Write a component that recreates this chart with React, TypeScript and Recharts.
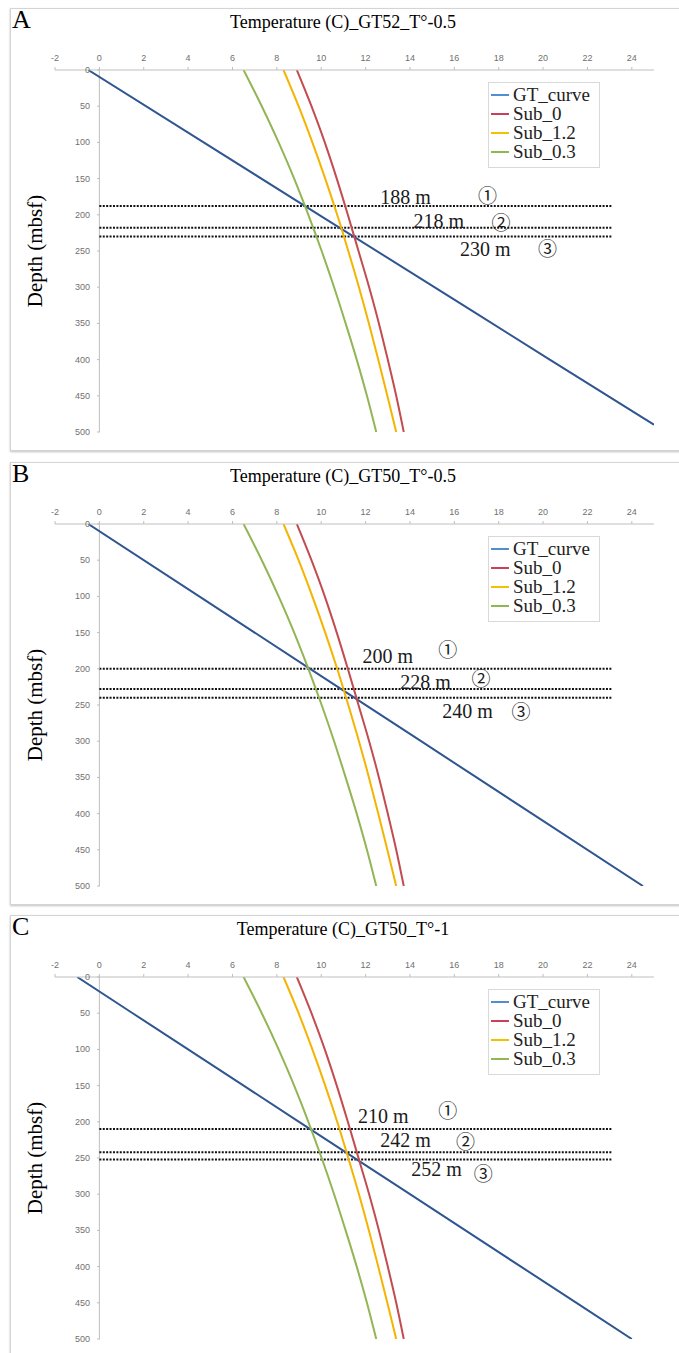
import React from 'react';
import { LineChart, Line, XAxis, YAxis, ReferenceLine, ReferenceDot, Legend } from 'recharts';

const tempTicks = [-2, 0, 2, 4, 6, 8, 10, 12, 14, 16, 18, 20, 22, 24];
const depthTicks = [0, 50, 100, 150, 200, 250, 300, 350, 400, 450, 500];

// hydrate stability curves, same in the three panels
const subDepth = [0, 50, 100, 150, 200, 250, 300, 350, 400, 450, 500];
const sub0 = [8.9, 9.56, 10.16, 10.7, 11.2, 11.68, 12.16, 12.6, 13.0, 13.38, 13.72];
const sub12 = [8.3, 8.98, 9.6, 10.18, 10.72, 11.22, 11.7, 12.15, 12.57, 12.98, 13.38];
const sub03 = [6.5, 7.32, 8.08, 8.78, 9.42, 10.02, 10.58, 11.1, 11.6, 12.06, 12.48];

// geotherms
const gtDepthA = [0, 100, 200, 300, 400, 490];
const gtTempA = [-0.5, 4.7, 9.9, 15.1, 20.3, 25.0];
const gtDepthB = [0, 100, 200, 300, 400, 500];
const gtTempB = [-0.5, 4.5, 9.5, 14.5, 19.5, 24.5];
const gtDepthC = [0, 100, 200, 300, 400, 500];
const gtTempC = [-1, 4, 9, 14, 19, 24];

// intersection depths (m)
const marksA = [188, 218, 230];
const marksB = [200, 228, 240];
const marksC = [210, 242, 252];
const circled = ['①', '②', '③'];

const legendNames = ['GT_curve', 'Sub_0', 'Sub_1.2', 'Sub_0.3'];
const legendColors = ['#4f8fd0', '#c8405a', '#f2c200', '#8fb850'];
const lineColors = ['#2f5690', '#c24c4f', '#f4b400', '#92b555'];

// where the annotations sit, in (temperature, depth)
const textPosA = [[13.8, 175], [15.3, 209], [17.4, 247]];
const circlePosA = [[17.5, 174], [18.1, 211], [20.2, 247]];
const textPosB = [[13.0, 182], [14.7, 218], [16.6, 258]];
const circlePosB = [[15.7, 174], [17.2, 215], [19.0, 260]];
const textPosC = [[12.8, 192], [13.8, 225], [15.2, 265]];
const circlePosC = [[15.7, 186], [16.5, 228], [17.3, 272]];

const serif = '"Liberation Serif", "Times New Roman", serif';

const toPts = (depths: number[], temps: number[]) => depths.map((d, i) => ({ d, t: temps[i] }));

function DepthTick(props: any) {
  const { x, y, payload } = props;
  return (
    <g>
      <line x1={x + 42} x2={x + 45} y1={y} y2={y} stroke="#bfbfbf" />
      <text x={x + 35} y={y} textAnchor="end" dominantBaseline="central" fontSize={9} fill="#707070" fontFamily="Liberation Sans">
        {payload.value}
      </text>
    </g>
  );
}

function LegendBox() {
  return (
    <div style={{ width: 104, border: '1px solid #d9d9d9', background: '#fff', padding: '2px 4px 6px 2px', fontFamily: serif }}>
      {legendNames.map((n, i) => (
        <div key={n} style={{ display: 'flex', alignItems: 'center', height: 19, lineHeight: '19px', fontSize: 19, color: '#222' }}>
          <span style={{ width: 18, height: 2, background: legendColors[i], marginRight: 4 }} />
          {n}
        </div>
      ))}
    </div>
  );
}

interface PanelProps {
  top: number;
  letter: string;
  title: string;
  gt: { d: number; t: number }[];
  marks: number[];
  textPos: number[][];
  circlePos: number[][];
}

function Panel({ top, letter, title, gt, marks, textPos, circlePos }: PanelProps) {
  const series = [
    { name: 'GT_curve', data: gt },
    { name: 'Sub_0', data: toPts(subDepth, sub0) },
    { name: 'Sub_1.2', data: toPts(subDepth, sub12) },
    { name: 'Sub_0.3', data: toPts(subDepth, sub03) },
  ];
  return (
    <div
      style={{
        position: 'absolute', left: 10, top, width: 680, height: 443, boxSizing: 'border-box',
        border: '1px solid #d4d4d4', boxShadow: '0 1px 2px rgba(0,0,0,0.25)', background: '#fff',
      }}
    >
      <div style={{ position: 'absolute', left: 1, top: -2, fontSize: 26, lineHeight: '26px', fontFamily: serif }}>{letter}</div>
      <div style={{ position: 'absolute', left: 0, width: 664, top: 4, textAlign: 'center', fontSize: 18, lineHeight: '18px', fontFamily: serif }}>
        {title}
      </div>
      <div
        style={{
          position: 'absolute', left: 24, top: 242, transform: 'translate(-50%, -50%) rotate(-90deg)',
          whiteSpace: 'nowrap', fontSize: 21, fontFamily: serif,
        }}
      >
        Depth (mbsf)
      </div>
      <div style={{ position: 'absolute', left: -11, top: -1 }}>
        <LineChart width={679} height={443} margin={{ top: 32, right: 25, left: 54, bottom: 19 }}>
          <XAxis
            type="number"
            dataKey="t"
            orientation="top"
            domain={[-2, 25]}
            ticks={tempTicks}
            allowDataOverflow
            height={30}
            axisLine={{ stroke: '#bfbfbf' }}
            tickLine={{ stroke: '#bfbfbf' }}
            tickSize={3}
            tickMargin={6}
            tick={{ fontSize: 9, fill: '#707070', fontFamily: 'Liberation Sans' }}
          />
          <YAxis
            type="number"
            domain={[0, 500]}
            reversed
            ticks={depthTicks}
            width={1}
            tickSize={0}
            tickMargin={0}
            axisLine={false}
            tick={<DepthTick />}
            interval={0}
            allowDataOverflow
          />
          <ReferenceLine segment={[{ x: 0, y: 0 }, { x: 0, y: 500 }]} stroke="#bfbfbf" />
          {marks.map((m) => (
            <ReferenceLine
              key={m}
              segment={[{ x: 0, y: m }, { x: 23.1, y: m }]}
              stroke="#111"
              strokeWidth={2}
              strokeDasharray="2 1.4"
            />
          ))}
          {series.map((s, i) => (
            <Line
              key={s.name}
              name={s.name}
              data={s.data}
              dataKey="d"
              type="monotone"
              stroke={lineColors[i]}
              strokeWidth={2}
              dot={false}
              isAnimationActive={false}
            />
          ))}
          {marks.map((m, i) => (
            <ReferenceDot
              key={'t' + m}
              x={textPos[i][0]}
              y={textPos[i][1]}
              r={0.1}
              fill="none"
              stroke="none"
              label={{ value: `${m} m`, position: 'center', fontSize: 20, fill: '#1a1a1a', fontFamily: serif }}
            />
          ))}
          {marks.map((m, i) => (
            <ReferenceDot
              key={'c' + m}
              x={circlePos[i][0]}
              y={circlePos[i][1]}
              r={0.1}
              fill="none"
              stroke="none"
              label={{ value: circled[i], position: 'center', fontSize: 19, fill: '#1a1a1a', fontFamily: '"Noto Sans CJK JP"' }}
            />
          ))}
          <Legend
            layout="vertical"
            align="center"
            verticalAlign="middle"
            wrapperStyle={{ left: 488, top: 74, width: 'auto' }}
            content={() => <LegendBox />}
          />
        </LineChart>
      </div>
    </div>
  );
}

export default function App() {
  return (
    <div style={{ position: 'absolute', left: 0, top: 0, width: 679, height: 1353, overflow: 'hidden', background: '#fff' }}>
      <Panel top={8} letter="A" title="Temperature (C)_GT52_T°-0.5" gt={toPts(gtDepthA, gtTempA)} marks={marksA} textPos={textPosA} circlePos={circlePosA} />
      <Panel top={462} letter="B" title="Temperature (C)_GT50_T°-0.5" gt={toPts(gtDepthB, gtTempB)} marks={marksB} textPos={textPosB} circlePos={circlePosB} />
      <Panel top={915} letter="C" title="Temperature (C)_GT50_T°-1" gt={toPts(gtDepthC, gtTempC)} marks={marksC} textPos={textPosC} circlePos={circlePosC} />
    </div>
  );
}
